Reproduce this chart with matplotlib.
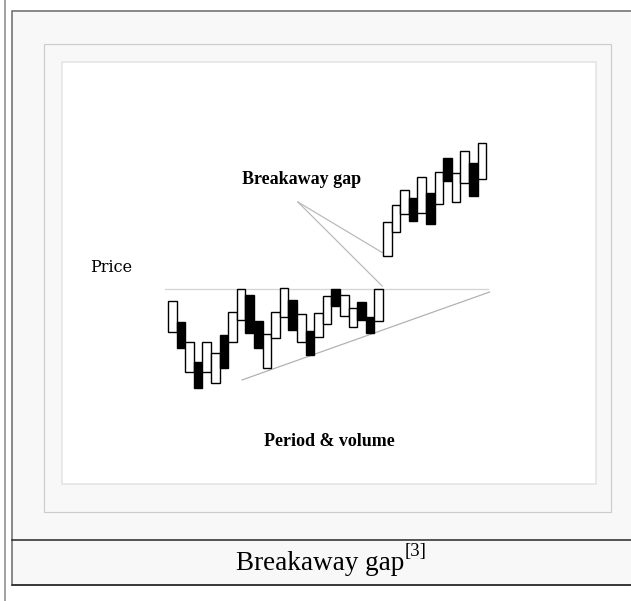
import numpy as np
import matplotlib.pyplot as plt
from matplotlib.patches import Rectangle

# candle data (price units), 37 periods
opens = [68, 78, 28, 38, 28, 17, 65, 58, 80, 105, 79, 32, 62, 83, 100, 58, 69, 63, 76,
         111, 84, 73, 98, 83, 79,
         144, 168, 186, 202, 187, 207, 196, 242, 198, 217, 237, 221]
closes = [99, 52, 58, 12, 58, 47, 32, 88, 111, 67, 52, 66, 88, 112, 70, 86, 45, 87, 104,
          94, 105, 92, 80, 67, 111,
          178, 195, 210, 179, 223, 176, 228, 219, 227, 249, 204, 257]

resistance = 111
resistance_span = [-0.85, 36.7]
trend_x = [8.1, 36.9]
trend_y = [20, 108]
gap_label_anchor = (14.6, 198)

labels = {"gap": "Breakaway gap", "price": "Price", "xlab": "Period & volume",
          "caption": "Breakaway gap", "ref": "[3]"}

W, H = 631, 601
fig = plt.figure(figsize=(W / 100, H / 100), dpi=100)

# page frame in pixel coordinates
bg = fig.add_axes([0, 0, 1, 1])
bg.set_xlim(0, W)
bg.set_ylim(H, 0)
bg.axis('off')
px = 0.72
bg.plot([4.5, 4.5], [0, H], color='#888888', lw=1.5 * px)
bg.add_patch(Rectangle((12, 11), 660, 574, facecolor='#f8f8f8', edgecolor='#666666', lw=1.5 * px))
bg.add_patch(Rectangle((44, 44), 567, 468, facecolor='#f8f8f8', edgecolor='#cccccc', lw=1.2 * px))
bg.add_patch(Rectangle((62, 62), 534, 422, facecolor='white', edgecolor='#e2e2e2', lw=1.5 * px))
bg.plot([12, W], [540, 540], color='#222222', lw=1.5 * px)
bg.plot([12, W], [585, 585], color='#222222', lw=1.5 * px)

# chart axes over the whole figure; index -> x, price -> y
ax = fig.add_axes([0, 0, 1, 1])
ax.set_xlim((0 - 172.3) / 8.6, (W - 172.3) / 8.6)
ax.set_ylim(400 - H, 400)
ax.axis('off')
ax.patch.set_alpha(0)

o = np.array(opens)
c = np.array(closes)
idx = np.arange(len(o))
up = c >= o
ax.bar(idx, np.abs(c - o), bottom=np.minimum(o, c), width=1.0,
       color=np.where(up, 'white', 'black'), edgecolor='black', lw=1.4 * px, zorder=3)

ax.plot(resistance_span, [resistance, resistance], color='#d4d4d4', lw=1.3 * px, zorder=1)
ax.plot(trend_x, trend_y, color='#b0b0b0', lw=1.2 * px, zorder=1)
ax.plot([gap_label_anchor[0], 24.5], [gap_label_anchor[1], opens[25] + 3], color='#b8b8b8', lw=1.2 * px, zorder=1)
ax.plot([gap_label_anchor[0], 24.4], [gap_label_anchor[1], closes[24] + 3], color='#b8b8b8', lw=1.2 * px, zorder=1)

ax.text(15.03, 221, labels["gap"], family='Liberation Serif', weight='bold', fontsize=13,
        ha='center', va='center')
ax.text(-7.1, 132, labels["price"], family='DejaVu Serif', fontsize=11.5, ha='center', va='center')
ax.text(18.3, -41, labels["xlab"], family='Liberation Serif', weight='bold', fontsize=13,
        ha='center', va='center')

# caption with superscript reference
cap = bg.text(0, 570, labels["caption"], family='Liberation Serif', fontsize=19.5, ha='left', va='baseline')
fig.canvas.draw()
r = fig.canvas.get_renderer()
bb = cap.get_window_extent(r)
sup = bg.text(0, 556, labels["ref"], family='Liberation Serif', fontsize=13.5, ha='left', va='baseline')
sb = sup.get_window_extent(r)
total = bb.width + sb.width
x0 = 331 - total / 2
cap.set_x(x0)
sup.set_x(x0 + bb.width)

fig.savefig('out.png', dpi=100)
